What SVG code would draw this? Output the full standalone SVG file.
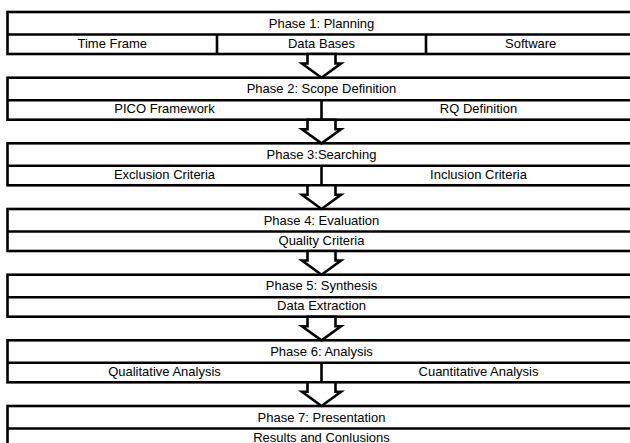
<svg xmlns="http://www.w3.org/2000/svg" width="630" height="443" viewBox="0 0 630 443">
<style>
.box{fill:#fff;stroke:#000;stroke-width:2.6}
.ln{stroke:#000;stroke-width:2.6}
.arr{fill:#fff;stroke:#000;stroke-width:2.6;stroke-linejoin:miter}
text{font-family:"Liberation Sans",Arial,sans-serif;font-size:13px;fill:#000;text-anchor:middle}
</style>
<rect width="630" height="443" fill="#fff"/>
<g id="phase1">
<rect class="box" x="7.5" y="12" width="628" height="42"/>
<line class="ln" x1="7.5" y1="34.5" x2="635.5" y2="34.5"/>
<line class="ln" x1="217" y1="34.5" x2="217" y2="54"/>
<line class="ln" x1="426" y1="34.5" x2="426" y2="54"/>
<text x="321.5" y="27.5">Phase 1: Planning</text>
<text x="112.3" y="47.5">Time Frame</text>
<text x="321.5" y="47.5">Data Bases</text>
<text x="530.7" y="47.5">Software</text>
</g>
<g id="phase2">
<rect class="box" x="7.5" y="77.7" width="628" height="42"/>
<line class="ln" x1="7.5" y1="100.2" x2="635.5" y2="100.2"/>
<line class="ln" x1="321.5" y1="100.2" x2="321.5" y2="119.7"/>
<text x="321.5" y="93.2">Phase 2: Scope Definition</text>
<text x="164.5" y="113.2">PICO Framework</text>
<text x="478.5" y="113.2">RQ Definition</text>
</g>
<g id="phase3">
<rect class="box" x="7.5" y="143.3" width="628" height="42"/>
<line class="ln" x1="7.5" y1="165.8" x2="635.5" y2="165.8"/>
<line class="ln" x1="321.5" y1="165.8" x2="321.5" y2="185.3"/>
<text x="321.5" y="158.8">Phase 3:Searching</text>
<text x="164.5" y="178.8">Exclusion Criteria</text>
<text x="478.5" y="178.8">Inclusion Criteria</text>
</g>
<g id="phase4">
<rect class="box" x="7.5" y="209" width="628" height="42"/>
<line class="ln" x1="7.5" y1="231.5" x2="635.5" y2="231.5"/>
<text x="321.5" y="224.5">Phase 4: Evaluation</text>
<text x="321.5" y="244.5">Quality Criteria</text>
</g>
<g id="phase5">
<rect class="box" x="7.5" y="274.7" width="628" height="42"/>
<line class="ln" x1="7.5" y1="297.2" x2="635.5" y2="297.2"/>
<text x="321.5" y="290.2">Phase 5: Synthesis</text>
<text x="321.5" y="310.2">Data Extraction</text>
</g>
<g id="phase6">
<rect class="box" x="7.5" y="340.3" width="628" height="42"/>
<line class="ln" x1="7.5" y1="362.8" x2="635.5" y2="362.8"/>
<line class="ln" x1="321.5" y1="362.8" x2="321.5" y2="382.3"/>
<text x="321.5" y="355.8">Phase 6: Analysis</text>
<text x="164.5" y="375.8">Qualitative Analysis</text>
<text x="478.5" y="375.8">Cuantitative Analysis</text>
</g>
<g id="phase7">
<rect class="box" x="7.5" y="406" width="628" height="42"/>
<line class="ln" x1="7.5" y1="428.5" x2="635.5" y2="428.5"/>
<text x="321.5" y="421.5">Phase 7: Presentation</text>
<text x="321.5" y="441.5">Results and Conlusions</text>
</g>
<g id="connectors">
<polygon class="arr" points="307.5,54 335.5,54 335.5,63.5 341,63.5 321.5,77.7 302,63.5 307.5,63.5"/>
<polygon class="arr" points="307.5,119.7 335.5,119.7 335.5,129.2 341,129.2 321.5,143.3 302,129.2 307.5,129.2"/>
<polygon class="arr" points="307.5,185.3 335.5,185.3 335.5,194.8 341,194.8 321.5,209 302,194.8 307.5,194.8"/>
<polygon class="arr" points="307.5,251 335.5,251 335.5,260.5 341,260.5 321.5,274.7 302,260.5 307.5,260.5"/>
<polygon class="arr" points="307.5,316.7 335.5,316.7 335.5,326.2 341,326.2 321.5,340.3 302,326.2 307.5,326.2"/>
<polygon class="arr" points="307.5,382.3 335.5,382.3 335.5,391.8 341,391.8 321.5,406 302,391.8 307.5,391.8"/>
</g>
</svg>
